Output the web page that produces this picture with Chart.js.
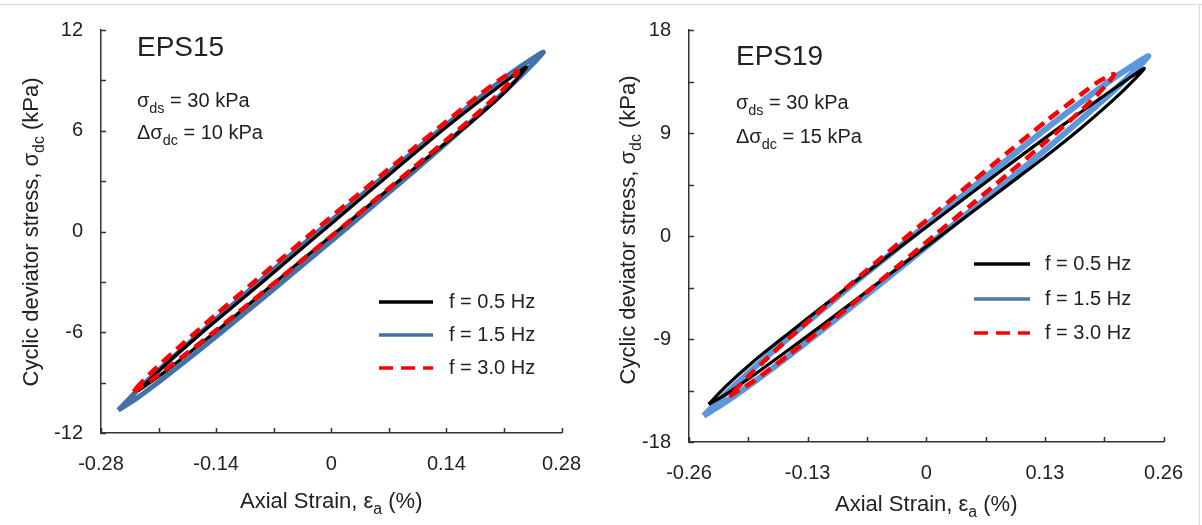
<!DOCTYPE html>
<html>
<head>
<meta charset="utf-8">
<script src="https://cdn.jsdelivr.net/npm/chart.js@4"></script>
<style>
  html, body { margin: 0; padding: 0; background: #fff; }
  body { width: 1202px; height: 525px; position: relative; overflow: hidden; }
  #c1 { position: absolute; left: 0; top: 0; }
  #c2 { position: absolute; left: 600px; top: 0; }
  .bt { position: absolute; left: 0; top: 4px; width: 1202px; height: 1px; background: #dadada; }
  .br { position: absolute; left: 1199px; top: 4px; width: 1px; height: 521px; background: #dadada; }
</style>
</head>
<body>
<div class="bt"></div><div class="br"></div>
<canvas id="c1" width="600" height="525"></canvas>
<canvas id="c2" width="602" height="525"></canvas>
<script>
// ---------------- DATA ----------------
const seriesLabels = ['f = 0.5 Hz', 'f = 1.5 Hz', 'f = 3.0 Hz'];

// EPS15 (closed loops: lower branch up, then upper branch back down)
const eps15Strain05 = [-0.235,-0.20,-0.16,-0.12,-0.08,-0.04,0.00,0.04,0.08,0.12,0.16,0.20,0.22,0.237,0.20,0.16,0.12,0.08,0.04,0.00,-0.04,-0.08,-0.12,-0.16,-0.20,-0.235];
const eps15Stress05 = [-9.50,-8.27,-6.73,-5.15,-3.51,-1.87,-0.27,1.32,2.93,4.52,6.10,7.79,8.75,9.80,8.49,7.00,5.42,3.78,2.12,0.46,-1.19,-2.86,-4.50,-6.13,-7.85,-9.50];

const eps15Strain15 = [-0.259,-0.235,-0.20,-0.16,-0.12,-0.08,-0.04,0.00,0.04,0.08,0.12,0.16,0.20,0.23,0.258,0.23,0.20,0.16,0.12,0.08,0.04,0.00,-0.04,-0.08,-0.12,-0.16,-0.20,-0.235,-0.259];
const eps15Stress15 = [-10.64,-9.88,-8.59,-7.05,-5.46,-3.84,-2.21,-0.57,1.08,2.74,4.41,6.12,7.85,9.24,10.68,9.82,8.73,7.16,5.57,3.94,2.30,0.65,-1.01,-2.68,-4.37,-6.08,-7.83,-9.42,-10.64];

const eps15Strain30 = [-0.241,-0.22,-0.18,-0.14,-0.10,-0.06,-0.02,0.02,0.06,0.10,0.14,0.18,0.21,0.227,0.21,0.18,0.14,0.10,0.06,0.02,-0.02,-0.06,-0.10,-0.14,-0.18,-0.22,-0.241];
const eps15Stress30 = [-9.53,-8.89,-7.42,-5.88,-4.30,-2.70,-1.08,0.53,2.16,3.80,5.45,7.13,8.51,9.55,9.21,8.13,6.55,4.94,3.32,1.69,0.06,-1.60,-3.26,-4.94,-6.66,-8.45,-9.53];

// EPS19
const eps19Strain05 = [-0.2386,-0.22,-0.19,-0.15,-0.11,-0.07,-0.03,0.01,0.05,0.09,0.13,0.17,0.21,0.239,0.21,0.17,0.13,0.09,0.05,0.01,-0.03,-0.07,-0.11,-0.15,-0.19,-0.22,-0.2386];
const eps19Stress05 = [-14.70,-13.86,-12.21,-9.90,-7.55,-5.14,-2.73,-0.32,2.08,4.49,6.90,9.46,12.26,14.64,13.11,10.86,8.55,6.19,3.78,1.38,-1.03,-3.49,-5.95,-8.45,-11.01,-13.16,-14.70];

const eps19Strain15 = [-0.244,-0.22,-0.19,-0.15,-0.11,-0.07,-0.03,0.01,0.05,0.09,0.13,0.17,0.21,0.2435,0.21,0.17,0.13,0.09,0.05,0.01,-0.03,-0.07,-0.11,-0.15,-0.19,-0.22,-0.244];
const eps19Stress15 = [-15.70,-14.50,-12.82,-10.45,-7.97,-5.44,-2.87,-0.29,2.29,4.86,7.49,10.22,13.04,15.70,14.04,11.72,9.29,6.76,4.19,1.61,-0.97,-3.54,-6.17,-8.85,-11.62,-13.80,-15.70];

const eps19Strain30 = [-0.216,-0.19,-0.15,-0.11,-0.07,-0.03,0.01,0.05,0.09,0.13,0.17,0.19,0.206,0.19,0.17,0.13,0.09,0.05,0.01,-0.03,-0.07,-0.11,-0.15,-0.19,-0.216];
const eps19Stress30 = [-14.00,-12.72,-10.35,-7.84,-5.22,-2.55,0.12,2.78,5.45,8.16,10.98,12.56,14.13,13.55,12.40,9.95,7.35,4.70,2.02,-0.62,-3.32,-6.09,-8.90,-11.87,-14.00];

// Tick values and labels
const eps15XTicks = [-0.28,-0.21,-0.14,-0.07,0,0.07,0.14,0.21,0.28];
const eps15XLabels = ['-0.28','','-0.14','','0','','0.14','','0.28'];
const eps15YTicks = [-12,-9,-6,-3,0,3,6,9,12];
const eps15YLabels = ['-12','','-6','','0','','6','','12'];
const eps19XTicks = [-0.26,-0.195,-0.13,-0.065,0,0.065,0.13,0.195,0.26];
const eps19XLabels = ['-0.26','','-0.13','','0','','0.13','','0.26'];
const eps19YTicks = [-18,-13.5,-9,-4.5,0,4.5,9,13.5,18];
const eps19YLabels = ['-18','','-9','','0','','9','','18'];

// ---------------- HELPERS ----------------
const FONT = "'Liberation Sans', Arial, sans-serif";
const TXT = '#222';

function pts(xs, ys) { return xs.map((x, i) => ({ x: x, y: ys[i] })); }

function drawRich(ctx, parts, x, y, size) {
  let cx = x;
  parts.forEach(p => {
    const s = p.sub ? size * 0.72 : size;
    ctx.font = s + 'px ' + FONT;
    ctx.fillText(p.t, cx, p.sub ? y + size * 0.28 : y);
    cx += ctx.measureText(p.t).width;
  });
  return cx - x;
}
function richWidth(ctx, parts, size) {
  let w = 0;
  parts.forEach(p => {
    const s = p.sub ? size * 0.72 : size;
    ctx.font = s + 'px ' + FONT;
    w += ctx.measureText(p.t).width;
  });
  return w;
}

function makeChart(canvasId, cfg) {
  const ds = [
    { label: seriesLabels[0], data: pts(cfg.s05x, cfg.s05y), borderColor: '#000000', borderWidth: 3.2, order: 2 },
    { label: seriesLabels[1], data: pts(cfg.s15x, cfg.s15y), borderColor: cfg.blue, borderWidth: cfg.blueW, order: 3 },
    { label: seriesLabels[2], data: pts(cfg.s30x, cfg.s30y), borderColor: '#ff0000', borderWidth: 4.5, borderDash: [12, 7], order: 1 }
  ].map(d => Object.assign(d, { showLine: true, pointRadius: 0, tension: 0.25, fill: false }));

  const overlay = {
    id: 'overlay_' + canvasId,
    afterDraw(chart) {
      const ctx = chart.ctx, a = chart.chartArea;
      const xs = chart.scales.x, ys = chart.scales.y;
      ctx.save();
      // inward ticks
      ctx.strokeStyle = '#333'; ctx.lineWidth = 1.5;
      ctx.beginPath();
      cfg.xTicks.forEach(v => { const p = Math.round(xs.getPixelForValue(v)) + 0.5; ctx.moveTo(p, a.bottom); ctx.lineTo(p, a.bottom - 5); });
      cfg.yTicks.forEach(v => { const p = Math.round(ys.getPixelForValue(v)) + 0.5; ctx.moveTo(a.left, p); ctx.lineTo(a.left + 5, p); });
      ctx.stroke();

      ctx.fillStyle = TXT;
      ctx.textBaseline = 'alphabetic';
      ctx.textAlign = 'left';
      // panel name
      ctx.font = '28px ' + FONT;
      ctx.fillText(cfg.name, cfg.annX, cfg.nameY);
      // annotations
      drawRich(ctx, [{ t: 'σ' }, { t: 'ds', sub: true }, { t: ' = 30 kPa' }], cfg.annX, cfg.ann1Y, 20);
      drawRich(ctx, [{ t: 'Δσ' }, { t: 'dc', sub: true }, { t: ' = ' + cfg.dsdc + ' kPa' }], cfg.annX, cfg.ann2Y, 20);

      // x title
      const xt = [{ t: 'Axial Strain, ε' }, { t: 'a', sub: true }, { t: ' (%)' }];
      const xw = richWidth(ctx, xt, 22);
      drawRich(ctx, xt, (a.left + a.right) / 2 - xw / 2, cfg.xTitleY, 22);
      // y title
      const yt = [{ t: 'Cyclic deviator stress, σ' }, { t: 'dc', sub: true }, { t: ' (kPa)' }];
      const yw = richWidth(ctx, yt, 22);
      ctx.save();
      ctx.translate(cfg.yTitleX, cfg.yTitleC);
      ctx.rotate(-Math.PI / 2);
      drawRich(ctx, yt, -yw / 2, 0, 22);
      ctx.restore();

      // legend
      chart.data.datasets.forEach((d, i) => {
        const y = cfg.legY[i];
        ctx.save();
        ctx.strokeStyle = i === 1 ? cfg.legBlue : d.borderColor;
        ctx.lineWidth = 3.5;
        if (d.borderDash) ctx.setLineDash([14, 8]);
        ctx.beginPath();
        ctx.moveTo(cfg.legX, y); ctx.lineTo(cfg.legX + cfg.legLen, y);
        ctx.stroke();
        ctx.restore();
        ctx.fillStyle = TXT;
        ctx.font = '20px ' + FONT;
        ctx.textBaseline = 'middle';
        ctx.fillText(d.label, cfg.legTextX, y);
      });
      ctx.restore();
    }
  };

  return new Chart(document.getElementById(canvasId), {
    type: 'scatter',
    data: { datasets: ds },
    options: {
      responsive: false,
      animation: false,
      devicePixelRatio: 1,
      layout: { padding: { left: 0, top: cfg.top, right: cfg.padR, bottom: 0 } },
      plugins: { legend: { display: false }, tooltip: { enabled: false } },
      scales: {
        x: {
          type: 'linear', min: cfg.xTicks[0], max: cfg.xTicks[cfg.xTicks.length - 1],
          afterBuildTicks: s => { s.ticks = cfg.xTicks.map(v => ({ value: v })); },
          afterFit: s => { s.height = 525 - cfg.bottom; },
          grid: { display: false, drawTicks: false },
          border: { display: true, color: '#333', width: 1.5 },
          ticks: { autoSkip: false, maxRotation: 0, padding: 19, color: TXT, font: { family: FONT, size: 20 },
                   callback: (v, i) => cfg.xLabels[i] }
        },
        y: {
          type: 'linear', min: cfg.yTicks[0], max: cfg.yTicks[cfg.yTicks.length - 1],
          afterBuildTicks: s => { s.ticks = cfg.yTicks.map(v => ({ value: v })); },
          afterFit: s => { s.width = cfg.left; },
          grid: { display: false, drawTicks: false },
          border: { display: true, color: '#333', width: 1.5 },
          ticks: { autoSkip: false, padding: 18, color: TXT, font: { family: FONT, size: 20 },
                   callback: (v, i) => cfg.yLabels[i] }
        }
      }
    },
    plugins: [overlay]
  });
}

makeChart('c1', {
  s05x: eps15Strain05, s05y: eps15Stress05, s15x: eps15Strain15, s15y: eps15Stress15, s30x: eps15Strain30, s30y: eps15Stress30,
  xTicks: eps15XTicks, xLabels: eps15XLabels, yTicks: eps15YTicks, yLabels: eps15YLabels,
  blue: '#4472a8', legBlue: '#44709f', blueW: 5,
  left: 101, top: 21, padR: 22, bottom: 433,
  name: 'EPS15', dsdc: '10', annX: 137, nameY: 56, ann1Y: 107, ann2Y: 139,
  xTitleY: 508, yTitleX: 38, yTitleC: 232,
  legX: 379, legLen: 54, legTextX: 449, legY: [302, 335, 368]
});

makeChart('c2', {
  s05x: eps19Strain05, s05y: eps19Stress05, s15x: eps19Strain15, s15y: eps19Stress15, s30x: eps19Strain30, s30y: eps19Stress30,
  xTicks: eps19XTicks, xLabels: eps19XLabels, yTicks: eps19YTicks, yLabels: eps19YLabels,
  blue: '#5b97da', legBlue: '#4a78b2', blueW: 6,
  left: 89, top: 22, padR: 28, bottom: 442,
  name: 'EPS19', dsdc: '15', annX: 136, nameY: 65, ann1Y: 109, ann2Y: 143,
  xTitleY: 511, yTitleX: 35, yTitleC: 230,
  legX: 374, legLen: 56, legTextX: 445, legY: [264, 299, 333]
});
</script>
</body>
</html>
